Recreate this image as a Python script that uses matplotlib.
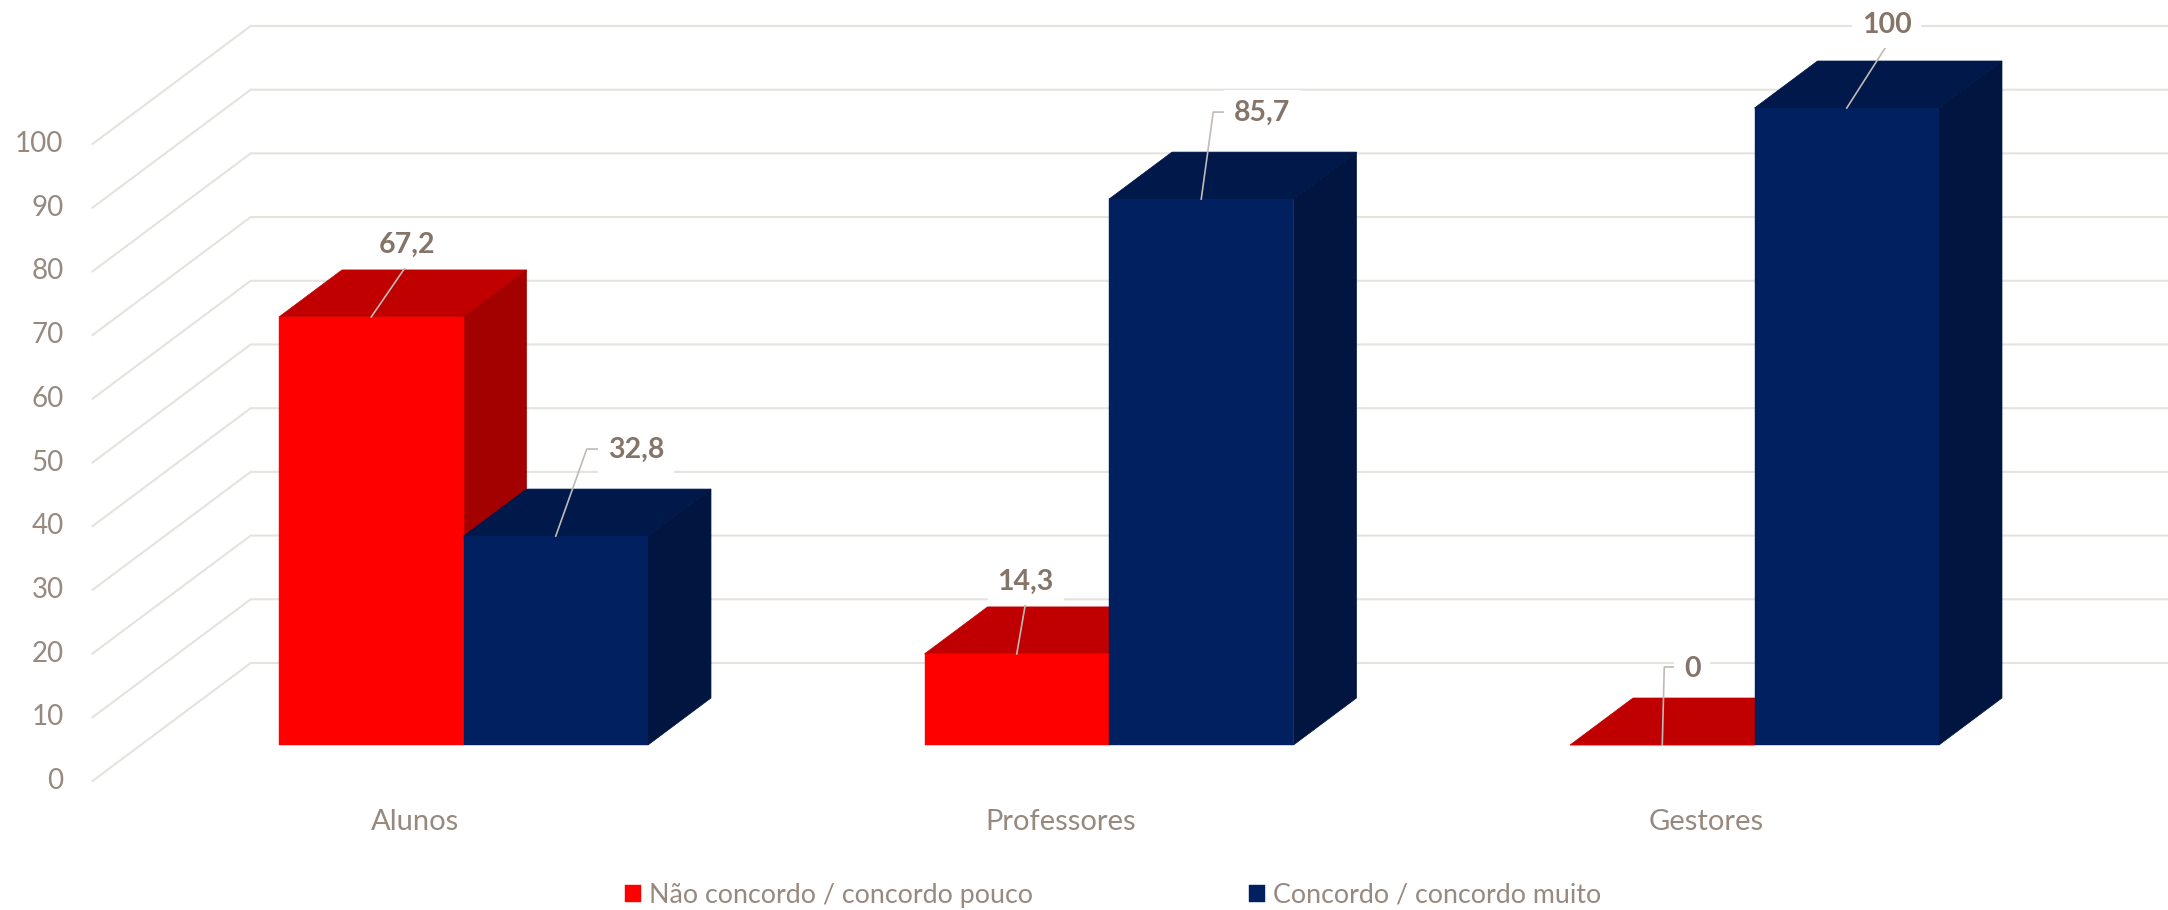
import matplotlib
matplotlib.use('Agg')
import matplotlib.pyplot as plt

plt.rcParams['font.family'] = ['Lato', 'DejaVu Sans']

categories = ['Alunos', 'Professores', 'Gestores']
nao_concordo = [67.2, 14.3, 0]
concordo = [32.8, 85.7, 100]
series_names = ['Não concordo / concordo pouco', 'Concordo / concordo muito']
y_ticks = [0, 10, 20, 30, 40, 50, 60, 70, 80, 90, 100]

W, H = 2168, 910
PX_X = 645.5  # px per category
PX_Y = 6.37   # px per value unit
X0 = 463.5    # px of category 0, front plane of the bars
Y0 = 745      # px of value 0, front plane of the bars

BAR_W = 0.2858
DX = 63 / PX_X  # depth of a bar
DY = 47 / PX_Y
FRONT = -0.766  # front and back of the floor, in bar depths
BACK = 1.745

RED = ['#FF0000', '#C00000', '#A30000']
NAVY = ['#002060', '#00184A', '#001540']
GRID = '#E6E3DF'
TXT = '#98897F'
LBL = '#857468'


def px(x, y):
  # canvas pixel offset to data units
  return x / PX_X, -y / PX_Y


def shift(x, y, d):
  return x + d * DX, y + d * DY


def draw_bar(ax, left, val, cols, name):
  right = left + BAR_W
  ax.fill([left, right, right + DX, left + DX], [val, val, val + DY, val + DY],
          color=cols[1], lw=0.5, zorder=3)
  ax.fill([right, right + DX, right + DX, right], [0, DY, val + DY, val],
          color=cols[2], lw=0.5, zorder=3)
  return ax.bar(left, val, BAR_W, align='edge', color=cols[0], edgecolor=cols[0], lw=0.3,
                zorder=3, label=name)


fig = plt.figure(figsize=(W / 100, H / 100), dpi=100, facecolor='white')
ax = fig.add_axes([0, 0, 1, 1])
ax.set_xlim(-X0 / PX_X, (W - X0) / PX_X)
ax.set_ylim(-(H - Y0) / PX_Y, Y0 / PX_Y)
ax.axis('off')

# floor to back wall grid
for v in y_ticks:
  x1, y1 = shift(-0.5, v, FRONT)
  x2, y2 = shift(-0.5, v, BACK)
  x3, y3 = shift(2.5, v, BACK)
  ax.plot([x1, x2, x3], [y1, y2, y3], color=GRID, lw=1.5, zorder=1, solid_joinstyle='miter')
  tx, ty = x1 + px(-29, 0)[0], y1
  ax.text(tx, ty, str(v), color=TXT, fontsize=20, ha='right', va='center')

for i, c in enumerate(categories):
  lx, _ = shift(i, 0, FRONT)
  ax.text(lx, (Y0 - 822) / PX_Y, c, color=TXT, fontsize=21, ha='center', va='center')

h1 = h2 = None
for i in range(len(categories)):
  h1 = draw_bar(ax, i - BAR_W, nao_concordo[i], RED, series_names[0])
  h2 = draw_bar(ax, i, concordo[i], NAVY, series_names[1])

# data labels: text centre and leader points, as pixel offsets from the bar top centre
label_vals = nao_concordo + concordo
label_x = [i - BAR_W / 2 for i in range(3)] + [i + BAR_W / 2 for i in range(3)]
label_off = [(36, -72), (9, -72), (30, -76), (80, -86), (61, -86), (40, -83)]
leader_off = [
  [(35, -51)],
  [(9, -52)],
  [(2, -78), (14, -78)],
  [(31, -87), (42, -87)],
  [(12, -87), (25, -87)],
  [(39, -61)],
]
for x, v, off, lead in zip(label_x, label_vals, label_off, leader_off):
  xs, ys = [x], [v]
  for p in lead:
    dx, dy = px(*p)
    xs.append(x + dx)
    ys.append(v + dy)
  ax.plot(xs, ys, color='#BFBAB5', lw=1.2, zorder=5)
  dx, dy = px(*off)
  txt = ('%g' % v).replace('.', ',')
  ax.text(x + dx, v + dy, txt, color=LBL, fontsize=20.5, fontweight='bold', ha='center',
          va='center', zorder=6,
          bbox=dict(facecolor='white', edgecolor='none', pad=7))

fig.legend(handles=[h1, h2], loc='center', bbox_to_anchor=(0.5136, 1 - 895 / H), ncol=2,
           frameon=False, fontsize=19.3, labelcolor=TXT, handlelength=0.6, handleheight=0.6,
           handletextpad=0.3, columnspacing=8.05, borderpad=0, borderaxespad=0)

fig.savefig('out.png', dpi=100)
